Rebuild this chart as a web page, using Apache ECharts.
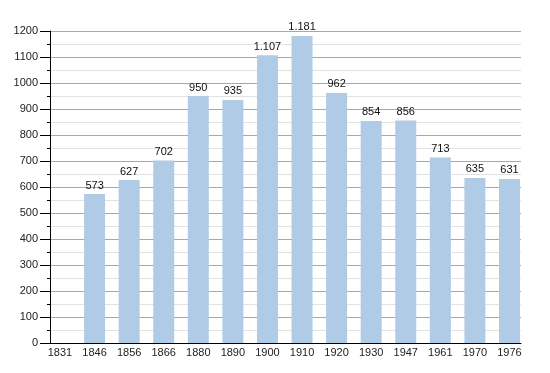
<!DOCTYPE html>
<html><head><meta charset="utf-8">
<script src="https://cdn.jsdelivr.net/npm/echarts@6/dist/echarts.min.js"></script>
<style>html,body{margin:0;padding:0;background:#fff}#c{width:550px;height:373px}</style>
</head><body><div id="c"></div>
<script>
const categories = ['1831','1846','1856','1866','1880','1890','1900','1910','1920','1930','1947','1961','1970','1976'];
const values = [null,573,627,702,950,935,1107,1181,962,854,856,713,635,631];
const yTicks = [0,100,200,300,400,500,600,700,800,900,1000,1100,1200];

const fmt = v => String(v).replace(/\B(?=(\d{3})+(?!\d))/g, '.');
const chart = echarts.init(document.getElementById('c'), null, {renderer:'canvas'});
const idx = categories.map((c,i)=>i);
chart.setOption({
  animation:false,
  grid:{left:50,right:29,top:31,bottom:30},
  xAxis:{
    type:'value', min:-0.289, max:13.333,
    axisLine:{show:true,onZero:false,lineStyle:{color:'#000',width:1}},
    axisTick:{show:false},
    splitLine:{show:false},
    axisLabel:{customValues:idx, formatter:v=>categories[Math.round(v)], color:'#222', fontSize:11, fontFamily:'Liberation Sans, Arial, sans-serif', margin:4}
  },
  yAxis:{
    type:'value', min:yTicks[0], max:yTicks[yTicks.length-1], interval:100,
    axisLine:{show:true,onZero:false,lineStyle:{color:'#000',width:1}},
    axisTick:{show:true,length:10,lineStyle:{color:'#000'}},
    minorTick:{show:true,splitNumber:2,length:3,lineStyle:{color:'#000'}},
    splitLine:{show:true,lineStyle:{color:'#a8a8a8',width:1}},
    minorSplitLine:{show:true,lineStyle:{color:'#e2e2e2',width:1}},
    axisLabel:{customValues:yTicks, formatter:v=>String(v), color:'#222',fontSize:11,fontFamily:'Liberation Sans, Arial, sans-serif',margin:12}
  },
  series:[{
    type:'bar',
    barWidth:21,
    data: values.map((v,i)=>[i,v]),
    itemStyle:{color:'#b0cbe5'},
    label:{show:true,position:'top',distance:3,color:'#111',fontSize:11,fontFamily:'Liberation Sans, Arial, sans-serif',
      formatter:p=>p.value[1]==null?'':fmt(p.value[1])}
  }]
});
</script></body></html>
